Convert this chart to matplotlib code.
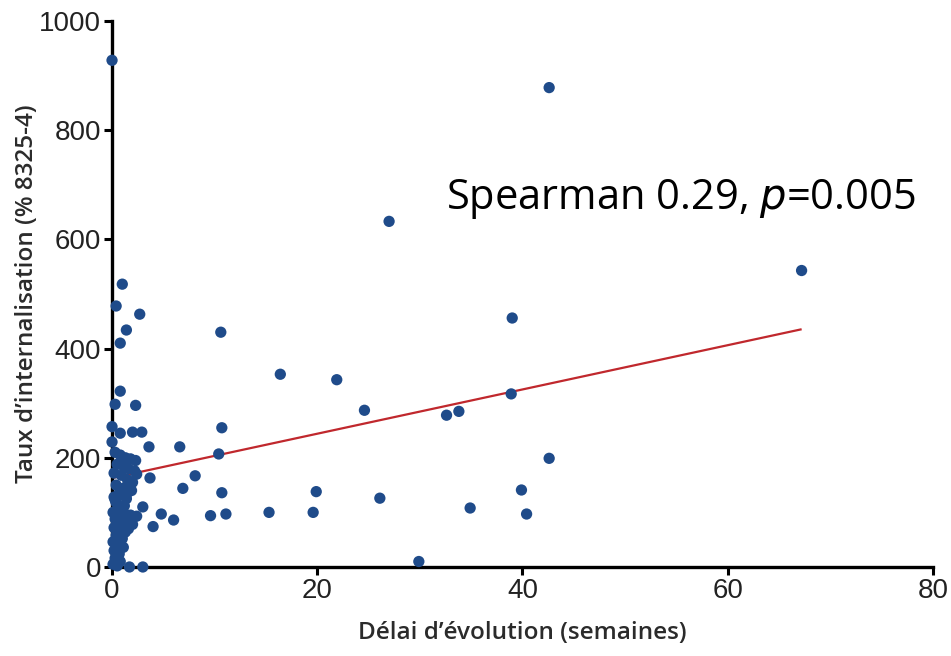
import matplotlib
matplotlib.use("Agg")
import matplotlib.pyplot as plt
import numpy as np

# délai d'évolution (semaines) / taux d'internalisation (% 8325-4)
delai = [
    0.0, 42.6, 27.0, 67.2, 1.0, 0.4, 2.7, 1.4, 10.6, 39.0,
    0.8, 16.4, 21.9, 0.8, 38.9, 0.3, 2.3, 24.6, 33.8, 32.6,
    0.0, 10.7, 0.8, 2.0, 2.9, 0.0, 3.6, 6.6, 10.4, 42.6,
    3.7, 8.1, 6.9, 10.7, 19.9, 39.9, 26.1, 3.0, 34.9, 4.8,
    9.6, 11.1, 15.3, 19.6, 40.4, 6.0, 4.0, 29.9, 1.7, 3.0,
    # groupe dense près de zéro
    0.3, 0.8, 1.3, 1.8, 2.3, 0.5, 1.1, 1.6, 2.2, 0.2,
    0.9, 1.5, 2.0, 0.4, 1.2, 0.7, 1.9, 0.2, 1.4, 2.4,
    0.8, 1.4, 0.3, 1.2, 0.4,
    0.1, 0.6, 1.2, 1.8, 2.4, 0.3, 0.9, 1.5, 2.0, 0.2,
    0.8, 1.3, 0.4, 1.0, 0.1, 0.6, 1.1, 0.2, 0.7, 0.3,
    0.8, 0.1, 0.5, 1.6,
]
taux = [
    928, 878, 633, 543, 518, 478, 463, 434, 430, 456,
    410, 353, 343, 322, 317, 298, 296, 287, 285, 278,
    257, 255, 245, 247, 247, 229, 220, 220, 207, 199,
    163, 167, 144, 136, 138, 141, 126, 110, 108, 97,
    94, 97, 100, 100, 97, 86, 74, 10, 0, 0,
    210, 205, 200, 198, 195, 188, 185, 180, 176, 172,
    168, 160, 155, 150, 145, 135, 140, 128, 125, 170,
    132, 132, 123, 112, 118,
    100, 104, 98, 95, 93, 88, 85, 82, 78, 72,
    68, 64, 58, 52, 46, 40, 36, 30, 24, 16,
    10, 5, 2, 70,
]

# droite de régression
fit_x = [0.0, 67.1]
fit_y = [163, 435]

x_ticks = [0, 20, 40, 60, 80]
y_ticks = [0, 200, 400, 600, 800, 1000]

fig = plt.figure(figsize=(9.51, 6.56), dpi=100)
ax = fig.add_axes([0.1178, 0.1357, 0.8632, 0.8323])

ax.plot(fit_x, fit_y, color="#c0282d", linewidth=1.6, zorder=2)
ax.scatter(delai, taux, s=66, color="#1f4b8a", edgecolors="none",
           zorder=5, clip_on=False)

ax.set_xlim(0, 80)
ax.set_ylim(0, 1000)
ax.set_xticks(x_ticks)
ax.set_yticks(y_ticks)

for side in ["top", "right"]:
    ax.spines[side].set_visible(False)
for side in ["left", "bottom"]:
    ax.spines[side].set_linewidth(2.4)
    ax.spines[side].set_zorder(3)

ax.tick_params(axis="both", direction="out", length=6, width=2.2,
               labelsize=20, colors="black", pad=2)
for lab in ax.get_xticklabels() + ax.get_yticklabels():
    lab.set_family("Liberation Sans")
    lab.set_color("#222222")

ax.set_xlabel("Délai d’évolution (semaines)", fontsize=17.5, family="Open Sans",
              fontweight="semibold", color="#2b2b2b", labelpad=12)
ax.set_ylabel("Taux d’internalisation (% 8325-4)", fontsize=17.5, family="Open Sans",
              fontweight="semibold", color="#2b2b2b", labelpad=0)

ax.text(32.5, 655, "Spearman 0.29, $\\mathit{p}$=0.005", fontsize=30,
        family="Open Sans", color="black")

fig.savefig("out.png", dpi=100)
